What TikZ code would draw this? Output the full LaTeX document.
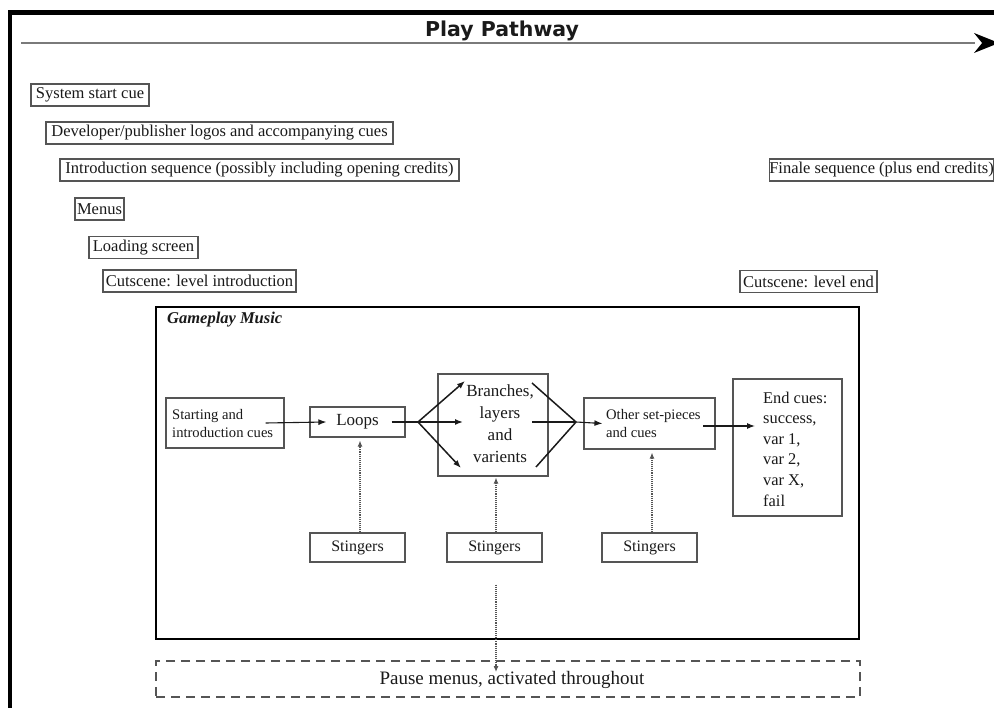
\documentclass[tikz,border=0pt]{standalone}
\usepackage{fontspec}
\setmainfont{Liberation Serif}
\newfontfamily\titlefont{DejaVu Sans}
\usetikzlibrary{arrows.meta}
\definecolor{boxgray}{HTML}{555555}
\definecolor{txt}{HTML}{1A1A1A}
\definecolor{axisgray}{HTML}{7A7A7A}
\newcommand\fsz[2]{\fontsize{#1}{#2}\selectfont}
\begin{document}
\begin{tikzpicture}[x=1pt,y=-1pt,
  tbox/.style={draw=boxgray, line width=1.2pt, inner sep=0pt, text=txt, minimum height=22pt, font=\fsz{16.5}{19}},
  gbox/.style={draw=boxgray, line width=1.2pt, inner sep=0pt},
  plain/.style={inner sep=0pt, text=txt},
  arr/.style={draw=txt, line width=1.1pt, -{Latex[length=8pt,width=6pt]}},
  farr/.style={draw=txt, line width=1.5pt, -{Latex[length=8pt,width=6pt]}},
  fline/.style={draw=txt, line width=1.5pt},
  darr/.style={draw=boxgray, line width=1.1pt, densely dotted, -{Latex[length=6pt,width=5pt]}}
]
\useasboundingbox (0,0) rectangle (994,708);
\fill[white] (0,0) rectangle (994,708);

% frame
\draw[line width=4.5pt, black] (10,708) -- (10,12.5) -- (1000,12.5);

% play pathway axis
\node[plain, font=\titlefont\bfseries\fsz{20.5}{24}] (title) at (502,31) {Play Pathway};
\coordinate (axs) at (21,43);
\coordinate (axe) at (999,43);
\draw[axisgray, line width=2pt] (axs) -- (975,43);
\draw[black, line width=0pt, -{Stealth[length=25pt,width=20pt]}] (990,43) -- (axe);

% sequence boxes
\node[tbox, minimum width=118pt] (sys) at (90,95) {System start cue};
\node[tbox, minimum width=347pt] (dev) at (219.5,133) {Developer/publisher logos and accompanying cues};
\node[tbox, minimum width=399pt] (intro) at (259.5,170) {Introduction sequence (possibly including opening credits)};
\node[tbox, minimum width=49pt] (menus) at (99.5,209) {Menus};
\node[tbox, minimum width=109pt] (load) at (143.5,247.5) {Loading screen};
\node[tbox, minimum width=193pt] (cutin) at (199.5,281) {Cutscene: level introduction};
\node[tbox, minimum width=223pt] (finale) at (881.5,170) {Finale sequence (plus end credits)};
\node[tbox, minimum width=137pt] (cutend) at (808.5,281.5) {Cutscene: level end};

% gameplay music frame
\node[draw=black, line width=2.2pt, minimum width=703pt, minimum height=332pt, inner sep=0pt] (game) at (507.5,473) {};
\node[plain, anchor=west, font=\bfseries\itshape\fsz{16.5}{19}] (gtitle) at (167,320) {Gameplay Music};

% inner boxes
\node[gbox, minimum width=118pt, minimum height=50pt] (start) at (225,423) {};
\node[plain, anchor=west, align=left, font=\fsz{14.6}{18}] (starttxt) at (172,423.5) {Starting and\\introduction cues};
\node[gbox, minimum width=95pt, minimum height=30pt, text=txt, font=\fsz{17}{20}] (loops) at (357.5,422) {Loops};
\node[gbox, minimum width=110pt, minimum height=102pt] (branch) at (493,425) {};
\node[plain, align=center, font=\fsz{17}{22}] (branchtxt) at (500,424) {Branches,\\layers\\and\\varients};
\node[gbox, minimum width=131pt, minimum height=51pt] (other) at (649.5,423.5) {};
\node[plain, anchor=west, align=left, font=\fsz{14.6}{18}] (othertxt) at (606,424) {Other set-pieces\\and cues};
\node[gbox, minimum width=109pt, minimum height=137pt] (endc) at (787.5,447.5) {};
\node[plain, anchor=west, align=left, font=\fsz{16.4}{20.6}] (endtxt) at (763,449) {End cues:\\success,\\var 1,\\var 2,\\var X,\\fail};

% stingers
\node[tbox, minimum width=95pt, minimum height=29pt, font=\fsz{16}{19}] (s1) at (357.5,547.5) {Stingers};
\node[tbox, minimum width=95pt, minimum height=29pt, font=\fsz{16}{19}] (s2) at (494.5,547.5) {Stingers};
\node[tbox, minimum width=95pt, minimum height=29pt, font=\fsz{16}{19}] (s3) at (649.5,547.5) {Stingers};

% pause menus
\node[draw=boxgray, line width=1.4pt, dash pattern=on 9pt off 6pt, minimum width=704pt, minimum height=36pt, inner sep=0pt] (pause) at (508,679) {};
\node[plain, font=\fsz{19}{22}] (pausetxt) at (512,680) {Pause menus, activated throughout};

% main flow
\draw[arr] ([xshift=-19pt]start.east) -- ([xshift=17pt]loops.west);
\coordinate (fork) at (418,422);
\coordinate (bu) at (465,381);
\coordinate (bm) at (463,422);
\coordinate (bd) at (461,468);
\draw[fline] ([xshift=-14pt]loops.east) -- (fork);
\draw[farr] (fork) -- (bu);
\draw[farr] (fork) -- (bm);
\draw[farr] (fork) -- (bd);
\coordinate (merge) at (576,422);
\coordinate (mu) at (532,383);
\coordinate (mm) at (532,422);
\coordinate (md) at (536,467);
\draw[fline] (mu) -- (merge);
\draw[fline] (mm) -- (merge);
\draw[fline] (md) -- (merge);
\draw[arr] (merge) -- ([xshift=19pt]other.west);
\coordinate (oe) at (703,426);
\coordinate (ee) at (755,426);
\draw[arr] (oe) -- (ee);

% stinger links
\draw[darr] ([xshift=2.5pt]s1.north) -- ([xshift=2.5pt, yshift=-3pt]loops.south);
\draw[darr] ([xshift=1.5pt]s2.north) -- ([xshift=3pt, yshift=-1pt]branch.south);
\draw[darr] ([xshift=2.5pt]s3.north) -- ([xshift=2.5pt, yshift=-3pt]other.south);
\coordinate (ptip) at (496,672);
\draw[darr] ([xshift=1.5pt, yshift=-22pt]s2.south) -- (ptip);
\end{tikzpicture}
\end{document}
